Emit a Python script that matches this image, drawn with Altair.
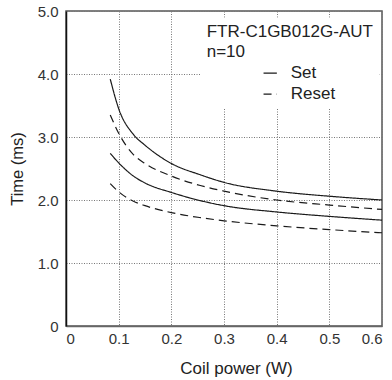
import altair as alt
import pandas as pd

# ---- data ----
power = [0.084, 0.1, 0.128, 0.15, 0.2, 0.255, 0.3, 0.4, 0.5, 0.6]
set_upper = [3.92, 3.45, 3.04, 2.87, 2.58, 2.40, 2.28, 2.14, 2.06, 2.00]
reset_upper = [3.35, 3.06, 2.72, 2.58, 2.38, 2.23, 2.14, 2.00, 1.92, 1.85]
set_lower = [2.74, 2.59, 2.38, 2.27, 2.12, 1.99, 1.91, 1.81, 1.74, 1.68]
reset_lower = [2.26, 2.13, 1.98, 1.91, 1.80, 1.72, 1.67, 1.59, 1.53, 1.48]
x_ticks = [0, 0.1, 0.2, 0.3, 0.4, 0.5, 0.6]
y_ticks = [0, 1, 2, 3, 4, 5]
series_names = ["Set", "Reset"]
title_lines = ["FTR-C1GB012G-AUT", "n=10"]

rows = []
for kind, bound, ys in [
    ("Set", "upper", set_upper),
    ("Reset", "upper", reset_upper),
    ("Set", "lower", set_lower),
    ("Reset", "lower", reset_lower),
]:
    for x, y in zip(power, ys):
        rows.append({"power": x, "time": y, "kind": kind, "curve": kind + "-" + bound})
df = pd.DataFrame(rows)

FONT = "Liberation Sans"

chart = (
    alt.Chart(df)
    .mark_line(color="#1a1a1a", strokeWidth=1.2, interpolate="monotone")
    .encode(
        x=alt.X(
            "power:Q",
            scale=alt.Scale(domain=[0, 0.6], nice=False),
            axis=alt.Axis(
                values=x_ticks,
                labelExpr="datum.value == 0 ? '0' : format(datum.value, '.1f')",
                title="Coil power (W)",
                titleX=170,
                titleY=47,
                titleBaseline="alphabetic",
            ),
        ),
        y=alt.Y(
            "time:Q",
            scale=alt.Scale(domain=[0, 5], nice=False),
            axis=alt.Axis(
                values=y_ticks,
                labelExpr="datum.value == 0 ? '0' : format(datum.value, '.1f')",
                title="Time (ms)",
                titleX=-44,
                titleY=157.5,
                titleBaseline="alphabetic",
                titleAlign="center",
                titleFontSize=16.5,
            ),
        ),
        strokeDash=alt.StrokeDash(
            "kind:N",
            scale=alt.Scale(domain=series_names, range=[[1, 0], [8, 5]]),
            legend=alt.Legend(
                title=title_lines,
                orient="none",
                legendX=134.7,
                legendY=6.7,
                fillColor="white",
                padding=6,
                titleFontSize=17,
                titleFontWeight="normal",
                titleColor="#222",
                titleFont=FONT,
                titleLineHeight=20,
                titlePadding=4,
                titleAlign="left",
                symbolType="stroke",
                symbolSize=177,
                symbolStrokeWidth=1.2,
                symbolStrokeColor="#1a1a1a",
                symbolOffset=55,
                labelOffset=12,
                labelFontSize=17,
                labelFont=FONT,
                labelColor="#222",
                rowPadding=3,
            ),
        ),
        detail="curve:N",
    )
    .properties(
        width=316,
        height=315,
        autosize=alt.AutoSizeParams(type="none"),
        padding={"left": 66, "top": 11, "right": 10, "bottom": 54},
    )
    .configure(background="white")
    .configure_view(stroke="#555", strokeWidth=1.5)
    .configure_axis(
        grid=True,
        gridColor="#777",
        gridDash=[1, 1.5],
        gridWidth=1,
        gridOpacity=1,
        ticks=False,
        domain=True,
        domainColor="#111",
        domainWidth=1.5,
        labelFont=FONT,
        labelFontSize=15,
        labelColor="#333",
        titleFont=FONT,
        titleFontSize=17,
        titleFontWeight="normal",
        titleColor="#222",
    )
    .configure_axisX(labelPadding=5, domainColor="#666")
    .configure_axisY(labelPadding=8)
)

chart.save("out.html", embed_options={"renderer": "svg", "actions": False})
